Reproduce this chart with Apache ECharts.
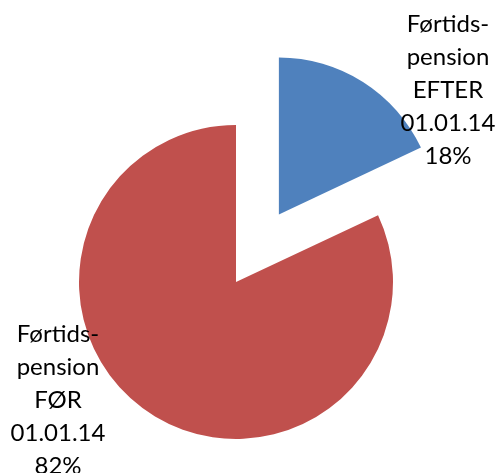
<!DOCTYPE html>
<html>
<head>
<meta charset="utf-8">
<script src="https://cdn.jsdelivr.net/npm/echarts@6/dist/echarts.min.js"></script>
<style>
  html, body { margin: 0; padding: 0; background: #fff; }
  #chart { width: 498px; height: 473px; }
</style>
</head>
<body>
<div id="chart"></div>
<script>
// data
const categories = ['Førtids-\npension\nEFTER\n01.01.14', 'Førtids-\npension\nFØR\n01.01.14'];
const shares = [18, 82];
const colors = ['#4F81BD', '#C0504D'];
// label anchor points (centre of each text block)
const labelSpots = [[448, 90], [58, 400]];

const chart = echarts.init(document.getElementById('chart'));
chart.setOption({
  animation: false,
  series: [
    {
      // labels + the red slice (first slice left transparent, drawn exploded below)
      type: 'pie',
      center: [236, 282],
      radius: 157,
      startAngle: 90,
      clockwise: true,
      selectedMode: false,
      label: {
        show: true,
        position: 'outside',
        formatter: p => p.name + '\n' + p.percent.toFixed(0) + '%',
        fontFamily: 'Lato',
        fontSize: 24,
        lineHeight: 33,
        color: '#000',
        align: 'center'
      },
      labelLine: { show: false },
      labelLayout: p => ({
        x: labelSpots[p.dataIndex][0],
        y: labelSpots[p.dataIndex][1],
        align: 'center',
        verticalAlign: 'middle'
      }),
      emphasis: { disabled: true },
      data: categories.map((c, i) => ({
        name: c,
        value: shares[i],
        itemStyle: { color: i === 0 ? 'transparent' : colors[i] }
      }))
    },
    {
      // exploded blue slice
      type: 'pie',
      silent: true,
      center: [236, 282],
      radius: 157,
      startAngle: 90,
      clockwise: true,
      selectedMode: 'single',
      selectedOffset: 80,
      label: { show: false },
      labelLine: { show: false },
      emphasis: { disabled: true },
      data: categories.map((c, i) => ({
        name: c,
        value: shares[i],
        selected: i === 0,
        itemStyle: { color: i === 0 ? colors[i] : 'transparent' }
      }))
    }
  ]
});
</script>
</body>
</html>
